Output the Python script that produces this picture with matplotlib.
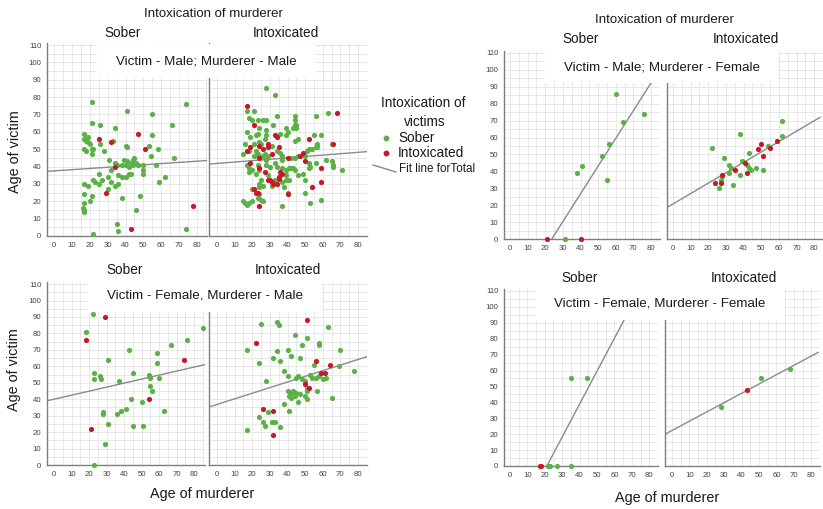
import numpy as np
import matplotlib
matplotlib.use("Agg")
import matplotlib.pyplot as plt
from matplotlib import font_manager
from matplotlib.patches import Rectangle
from matplotlib.lines import Line2D

# (age of murderer, age of victim); green = sober victim, red = intoxicated victim
# Victim male, murderer male
mm_sober_green = [(21, 77), (41, 72), (74, 76), (55, 70), (66, 64), (21, 65), (26, 64), (34, 62), (17, 59),
                  (19, 57), (17, 56), (18, 55), (19, 54), (20, 53), (17, 50), (18, 49), (21, 50), (22, 50),
                  (21, 47), (26, 53), (33, 55), (55, 58), (40, 52), (41, 51), (53, 52), (58, 50), (54, 46),
                  (67, 45), (28, 49), (31, 44), (34, 42), (39, 44), (41, 43), (43, 42), (44, 44), (45, 45),
                  (46, 42), (47, 41), (44, 41), (42, 40), (40, 41), (38, 41), (35, 41), (50, 41), (50, 38),
                  (50, 36), (57, 41), (32, 38), (36, 35), (38, 34), (40, 34), (42, 36), (43, 36), (25, 36),
                  (30, 34), (27, 32), (25, 30), (23, 31), (22, 32), (17, 30), (19, 29), (32, 31), (34, 29),
                  (36, 30), (30, 27), (59, 31), (62, 34), (17, 24), (21, 23), (20, 20), (17, 19), (38, 22),
                  (48, 23), (16, 16), (17, 15), (17, 14), (46, 15), (35, 7), (36, 3), (22, 1), (74, 4)]
mm_sober_red = [(25, 56), (32, 54), (47, 59), (51, 50), (34, 40), (29, 25), (78, 17), (43, 4)]
mm_intox_green = [(28, 85), (33, 81), (17, 72), (21, 72), (63, 71), (56, 69), (34, 69), (44, 69), (44, 67),
                  (44, 64), (43, 62), (45, 62), (45, 64), (18, 68), (20, 67), (23, 67), (26, 67), (28, 67),
                  (24, 62), (23, 59), (22, 58), (17, 60), (19, 57), (28, 61), (28, 58), (27, 56), (32, 64),
                  (39, 62), (40, 60), (36, 59), (39, 58), (55, 58), (59, 58), (46, 56), (44, 55), (16, 53),
                  (21, 53), (24, 54), (25, 53), (31, 52), (57, 53), (57, 51), (65, 53), (15, 47), (18, 49),
                  (22, 49), (23, 47), (21, 46), (24, 46), (26, 46), (27, 47), (29, 46), (28, 44), (34, 49),
                  (36, 48), (37, 46), (37, 44), (42, 45), (44, 45), (46, 46), (51, 49), (52, 50), (54, 50),
                  (56, 51), (50, 46), (62, 44), (65, 43), (66, 41), (66, 40), (71, 38), (56, 42), (52, 42),
                  (53, 40), (52, 39), (17, 41), (18, 39), (18, 37), (20, 38), (22, 36), (23, 41), (24, 38),
                  (28, 41), (30, 40), (29, 35), (33, 42), (34, 40), (37, 39), (39, 38), (41, 39), (42, 39),
                  (43, 39), (44, 38), (46, 35), (49, 36), (39, 35), (41, 32), (25, 32), (24, 30), (26, 29),
                  (24, 28), (33, 32), (31, 29), (37, 31), (39, 32), (50, 32), (38, 28), (40, 25), (50, 25),
                  (59, 21), (53, 19), (20, 27), (24, 24), (25, 21), (26, 20), (15, 20), (16, 19), (17, 18),
                  (18, 19), (20, 20), (37, 17), (23, 22)]
mm_intox_red = [(17, 75), (68, 71), (21, 64), (33, 58), (34, 57), (52, 56), (19, 51), (29, 53), (29, 51),
                (24, 52), (35, 51), (66, 53), (17, 49), (24, 45), (26, 50), (31, 47), (40, 45), (47, 46),
                (49, 48), (59, 39), (50, 43), (19, 42), (24, 39), (27, 37), (36, 37), (37, 36), (35, 33),
                (35, 34), (30, 32), (31, 31), (32, 30), (29, 32), (34, 30), (54, 28), (59, 31), (40, 24),
                (21, 27), (22, 25), (23, 25), (24, 17)]

# Victim male, murderer female
mf_sober_green = [(60, 86), (76, 74), (64, 69), (56, 56), (52, 49), (41, 43), (38, 39), (55, 35), (31, 0)]
mf_sober_red = [(21, 0), (40, 0)]
mf_intox_green = [(62, 70), (62, 61), (38, 62), (22, 54), (54, 55), (43, 51), (29, 48), (39, 46), (42, 44),
                  (43, 42), (44, 41), (47, 42), (51, 41), (38, 38), (34, 32), (32, 44), (33, 42), (32, 39),
                  (28, 37), (27, 35), (26, 30)]
mf_intox_red = [(59, 58), (50, 56), (48, 53), (55, 54), (51, 49), (41, 45), (42, 39), (35, 41), (28, 38),
                (24, 33), (27, 33)]

# Victim female, murderer male
fm_sober_green = [(22, 92), (18, 81), (85, 83), (76, 76), (67, 73), (59, 68), (59, 62), (43, 70), (31, 64),
                  (45, 56), (23, 56), (26, 54), (27, 52), (23, 52), (37, 51), (54, 55), (55, 53), (60, 53),
                  (55, 48), (56, 45), (44, 40), (50, 38), (63, 33), (41, 34), (38, 33), (36, 31), (28, 32),
                  (28, 31), (31, 25), (45, 24), (51, 24), (29, 13), (23, 0)]
fm_sober_red = [(29, 90), (18, 76), (74, 64), (54, 40), (21, 22)]
fm_intox_green = [(25, 86), (34, 87), (35, 85), (63, 84), (44, 79), (51, 77), (17, 70), (58, 74), (58, 73),
                  (48, 73), (70, 70), (34, 69), (40, 70), (32, 65), (36, 63), (42, 66), (47, 65), (24, 62),
                  (55, 61), (69, 60), (78, 57), (38, 57), (40, 54), (28, 51), (53, 55), (54, 53), (56, 53),
                  (58, 54), (60, 52), (62, 53), (45, 53), (46, 54), (48, 52), (50, 51), (51, 47), (51, 45),
                  (50, 42), (51, 40), (40, 45), (42, 44), (44, 42), (43, 45), (45, 44), (47, 43), (41, 42),
                  (42, 41), (57, 45), (65, 41), (46, 38), (41, 33), (38, 37), (29, 32), (24, 29), (26, 26),
                  (27, 24), (31, 26), (33, 26), (36, 23), (17, 21)]
fm_intox_red = [(51, 88), (22, 74), (56, 63), (64, 61), (59, 56), (61, 56), (50, 49), (52, 47), (26, 34),
                (32, 33), (32, 18)]

# Victim female, murderer female
ff_sober_green = [(35, 55), (44, 55), (22, 0), (23, 0), (27, 0), (35, 0)]
ff_sober_red = [(17, 0), (18, 0)]
ff_intox_green = [(28, 37), (51, 55), (68, 61)]
ff_intox_red = [(43, 48)]

# fit line for total: (intercept, slope)
fit_lines = {
    "mm_s": (37.5, 0.07), "mm_i": (41.8, 0.08),
    "mf_s": (-38.9, 1.64), "mf_i": (20.7, 0.615),
    "fm_s": (40.0, 0.244), "fm_i": (36.8, 0.342),
    "ff_s": (-43.9, 2.07), "ff_i": (22.3, 0.585),
}

x_ticks = list(range(0, 81, 10))
y_ticks = list(range(0, 111, 10))

GREEN = "#5cb048"
RED = "#c8172b"
W, H = 823, 509

names = {f.name for f in font_manager.fontManager.ttflist}
narrow = "Liberation Sans Narrow" in names
plt.rcParams["font.family"] = ["Liberation Sans Narrow" if narrow else "Liberation Sans", "DejaVu Sans"]
fs = 1.0 if narrow else 0.88

fig = plt.figure(figsize=(W / 100, H / 100), dpi=100)


def fx(x):
    return x / W


def fy(y):
    return 1 - y / H


def draw_panel(key, green, red, left, right, x0, xs, y0, ys, show_y):
    top = y0 - 111 * ys
    ax = fig.add_axes([fx(left), fy(y0), (right - left) / W, (y0 - top) / H])
    xlim = ((left - x0) / xs, (right - x0) / xs)
    ax.set_xlim(xlim)
    ax.set_ylim(0, 111)
    ax.set_xticks(x_ticks)
    ax.set_yticks(y_ticks)
    ax.set_xticks(np.arange(0, 86, 5), minor=True)
    ax.set_yticks(np.arange(0, 111, 5), minor=True)
    ax.grid(which="both", color="#e4e4e4", lw=0.6)
    ax.set_axisbelow(True)
    for s in ("top", "right"):
        ax.spines[s].set_visible(False)
    for s in ("left", "bottom"):
        ax.spines[s].set_color("#7f7f7f")
        ax.spines[s].set_linewidth(1.0)
    ax.tick_params(which="both", length=0, labelsize=5.6, labelcolor="#444444", pad=4)
    if not show_y:
        ax.tick_params(labelleft=False)
    b, m = fit_lines[key]
    xx = np.array(xlim)
    ax.plot(xx, b + m * xx, color="#8a8a8a", lw=1, zorder=2)
    for pts, col in ((green, GREEN), (red, RED)):
        px, py = zip(*pts)
        ax.scatter(px, py, s=14, color=col, linewidths=0, zorder=3, clip_on=False)
    return ax


# key, green, red, left, right, x0px, x px/unit, y0px, y px/unit, y labels
panels = [
    ("mm_s", mm_sober_green, mm_sober_red, 47, 207, 54, 1.7875, 236, 1.736, True),
    ("mm_i", mm_intox_green, mm_intox_red, 209, 367, 217, 1.7625, 236, 1.736, False),
    ("mf_s", mf_sober_green, mf_sober_red, 504, 660, 510, 1.7625, 239, 1.691, True),
    ("mf_i", mf_intox_green, mf_intox_red, 667, 823, 673, 1.8, 239, 1.691, False),
    ("fm_s", fm_sober_green, fm_sober_red, 47, 205, 54, 1.75, 465, 1.645, True),
    ("fm_i", fm_intox_green, fm_intox_red, 209, 367, 217, 1.7625, 465, 1.645, False),
    ("ff_s", ff_sober_green, ff_sober_red, 504, 658, 510, 1.775, 466, 1.591, True),
    ("ff_i", ff_intox_green, ff_intox_red, 665, 820, 672, 1.7625, 466, 1.591, False),
]
for p in panels:
    draw_panel(*p)


def label(x, y, s, size, **kw):
    fig.text(fx(x), fy(y), s, fontsize=size * fs, color="#1a1a1a", ha=kw.pop("ha", "center"),
             va="center", zorder=10, **kw)


# white boxes behind the panel titles
for (l, t, r, b) in [(97, 44, 315, 78), (545, 50, 778, 83), (88, 279, 322, 312), (535, 287, 785, 320)]:
    fig.patches.append(Rectangle((fx(l), fy(b)), (r - l) / W, (b - t) / H, transform=fig.transFigure,
                                 facecolor="white", edgecolor="none", zorder=5))

label(213, 14, "Intoxication of murderer", 10.8)
label(664, 20, "Intoxication of murderer", 10.8)
for (xs_, xi_, y_) in [(123, 286, 33), (581, 746, 39), (125, 288, 270), (580, 744, 278)]:
    label(xs_, y_, "Sober", 11.2)
    label(xi_, y_, "Intoxicated", 11.2)
label(206, 61, "Victim - Male; Murderer - Male", 11)
label(662, 67, "Victim - Male; Murderer - Female", 11)
label(205, 296, "Victim - Female, Murderer - Male", 11)
label(660, 304, "Victim - Female, Murderer - Female", 11)
label(15, 152, "Age of victim", 11.8, rotation=90)
label(14, 370, "Age of victim", 11.8, rotation=90)
label(202, 494, "Age of murderer", 11.8)
label(667, 498, "Age of murderer", 11.8)

# legend
label(423, 103, "Intoxication of", 11.2)
label(425, 122, "victims", 11.2)
for (yy, col, txt) in [(138, GREEN, "Sober"), (153, RED, "Intoxicated")]:
    fig.add_artist(Line2D([fx(386)], [fy(yy)], transform=fig.transFigure, marker="o", ms=3.2,
                          color=col, lw=0, zorder=10))
    label(398, yy, txt, 11.2, ha="left")
fig.add_artist(Line2D([fx(373), fx(396)], [fy(165), fy(172)], transform=fig.transFigure,
                      color="#8a8a8a", lw=1, zorder=10))
label(399, 169, "Fit line forTotal", 9.5, ha="left")

fig.savefig("out.png", dpi=100)
